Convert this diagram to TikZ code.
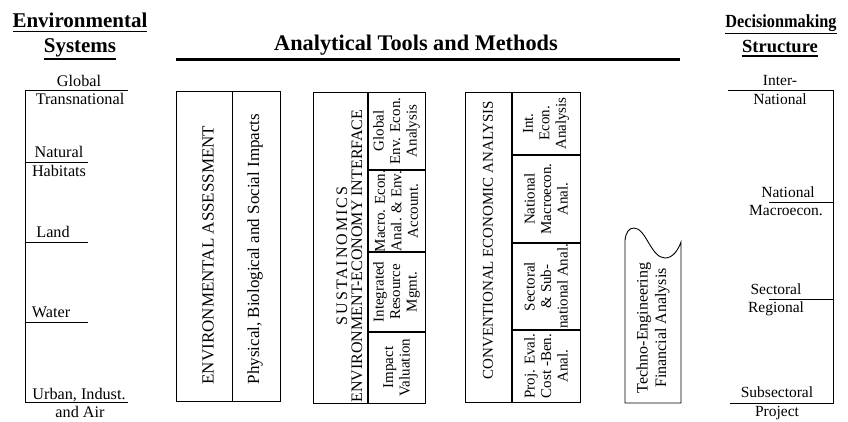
\documentclass[tikz,border=0pt]{standalone}
\usepackage{fontspec}
\setmainfont{Liberation Serif}
% underline set just below the depth of the text
\newcommand\titleul[1]{{\setbox0\hbox{#1}\dimen0=\dp0 \ifdim\dimen0<2pt \dimen0=2pt\fi
  \rlap{\rule[-\dimexpr\dimen0+3pt\relax]{\wd0}{1.6pt}}\box0}}
\begin{document}
\begin{tikzpicture}[x=1pt,y=-1pt,
  frame/.style={line width=0.9pt},
  divider/.style={line width=1.6pt},
  lbl/.style={inner sep=0pt, font=\fontsize{15.5}{17}\selectfont, text height=11pt, text depth=3pt},
  lbll/.style={lbl, font=\fontsize{16.2}{17}\selectfont},
  title/.style={inner sep=0pt, anchor=base, font=\fontsize{21}{25}\selectfont\bfseries},
  rtitle/.style={title, font=\fontsize{18.5}{25}\selectfont\bfseries},
  vtext/.style={inner sep=0pt, rotate=90, align=center, font=\fontsize{15}{16.5}\selectfont},
]
\useasboundingbox (0,0) rectangle (848,421);

% ---- headings ----
\node[title] (envA) at (80,27.3) {\titleul{Environmental}};
\node[title] (envB) at (80,52) {\titleul{Systems}};
\node[rtitle, xscale=0.88] (decA) at (781,27.3) {\titleul{Decisionmaking}};
\node[rtitle] (decB) at (780,52) {\titleul{Structure}};
\node[title, font=\fontsize{22.3}{25}\selectfont\bfseries] (tools) at (416,50) {Analytical Tools and Methods};
\coordinate (ruleL) at (176,59.5);
\coordinate (ruleR) at (680,59.5);
\draw[line width=2.6pt] (ruleL) -- (ruleR);

% ---- environmental systems scale ----
\draw[frame] (128,90) -- (25,90) -- (25,402.5) -- (128,402.5);
\draw[frame] (25,162.5) -- (88,162.5);
\draw[frame] (25,242.5) -- (88,242.5);
\draw[frame] (25,322.5) -- (88,322.5);
\node[lbll] (glob) at (79,82) {Global};
\node[lbll] (trans) at (80,100) {Transnational};
\node[lbll] (nat) at (59,153) {Natural};
\node[lbll] (hab) at (59,172) {Habitats};
\node[lbll] (land) at (53,233) {Land};
\node[lbll] (water) at (51,313) {Water};
\node[lbll] (urban) at (79,395) {Urban, Indust.};
\node[lbll] (air) at (80,413) {and Air};

% ---- decisionmaking scale ----
\draw[frame] (728,90) -- (833,90) -- (833,403) -- (730,403);
\draw[frame] (769,202) -- (833,202);
\draw[frame] (769,299) -- (833,299);
\node[lbl] (inter) at (780,81) {Inter-};
\node[lbl] (intnat) at (780,100) {National};
\node[lbl] (nnat) at (788,193) {National};
\node[lbl] (macro) at (786,211) {Macroecon.};
\node[lbl] (sect) at (776,290) {Sectoral};
\node[lbl] (reg) at (776,308) {Regional};
\node[lbl] (subs) at (777,393) {Subsectoral};
\node[lbl] (proj) at (777,412) {Project};

% ---- environmental assessment ----
\draw[frame] (176.5,91.5) rectangle (280,401.5);
\draw[divider] (232.5,91.5) -- (232.5,401.5);
\node[vtext, font=\fontsize{17}{17}\selectfont] (ea) at (208,255) {ENVIRONMENTAL ASSESSMENT};
\node[vtext, font=\fontsize{17}{17}\selectfont] (pbs) at (255,249) {Physical, Biological and Social Impacts};

% ---- sustainomics ----
\draw[frame] (313,92) rectangle (425,403);
\draw[divider] (368,92) -- (368,403);
\draw[divider] (368,170) -- (425,170);
\draw[divider] (368,252) -- (425,252);
\draw[divider] (368,332) -- (425,332);
\node[vtext, font=\fontsize{15}{15}\selectfont] (sus) at (349.5,256)
  {{\fontsize{16}{15}\selectfont\addfontfeature{LetterSpace=12}SUSTAINOMICS}\\{\fontsize{16}{15}\selectfont ENVIRONMENT-ECONOMY INTERFACE}};
\node[vtext] (s1) at (396.5,131) {Global\\Env. Econ.\\Analysis};
\node[vtext] (s2) at (396.5,211) {Macro. Econ.\\Anal. \& Env.\\Account.};
\node[vtext] (s3) at (396.5,292) {Integrated\\Resource\\Mgmt.};
\node[vtext] (s4) at (396.5,367.5) {Impact\\Valuation};

% ---- conventional economic analysis ----
\draw[frame] (465,92) rectangle (580,402);
\draw[divider] (512,92) -- (512,402);
\draw[divider] (512,155) -- (580,155);
\draw[divider] (512,243) -- (580,243);
\draw[divider] (512,330) -- (580,330);
\node[vtext] (cea) at (488,240) {CONVENTIONAL ECONOMIC ANALYSIS};
\node[vtext] (c1) at (546,123.5) {Int.\\Econ.\\Analysis};
\node[vtext] (c2) at (546,199) {National\\Macroecon.\\Anal.};
\node[vtext] (c3) at (546,286.5) {Sectoral\\\& Sub-\\national Anal.};
\node[vtext] (c4) at (546,366) {Proj. Eval.\\Cost -Ben.\\Anal.};

% ---- techno-engineering tab with torn top ----
\draw[frame] (625,403) -- (625,240)
  .. controls (626,232) and (629,228) .. (634,228)
  .. controls (646,228) and (651,258) .. (665,258)
  .. controls (673,258) and (678,250) .. (681,242)
  -- (681,403) -- cycle;
\node[vtext, font=\fontsize{16}{18.5}\selectfont] (tech) at (653,328) {Techno-Engineering\\Financial Analysis};
\end{tikzpicture}
\end{document}
